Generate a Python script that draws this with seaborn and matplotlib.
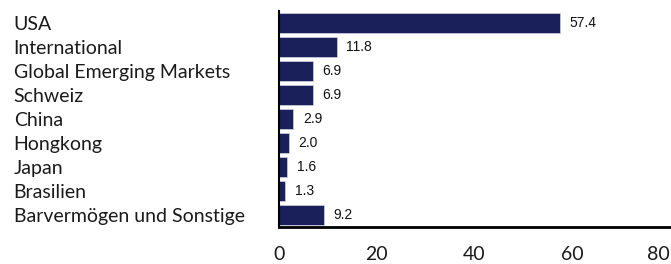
import matplotlib
matplotlib.use("Agg")
import matplotlib.pyplot as plt
import seaborn as sns
import pandas as pd

# data
categories = [
    "USA",
    "International",
    "Global Emerging Markets",
    "Schweiz",
    "China",
    "Hongkong",
    "Japan",
    "Brasilien",
    "Barvermögen und Sonstige",
]
values = [57.4, 11.8, 6.9, 6.9, 2.9, 2.0, 1.6, 1.3, 9.2]
x_ticks = [0, 20, 40, 60, 80]

df = pd.DataFrame({"category": categories, "value": values})

sns.set_style("white")
plt.rcParams["font.family"] = ["Lato", "DejaVu Sans"]

fig = plt.figure(figsize=(6.71, 2.64), dpi=100)
ax = fig.add_axes([0.4158, 0.140, 0.5827, 0.818])

sns.barplot(
    data=df, x="value", y="category", orient="h",
    color="#19205a", saturation=1, width=0.83,
    edgecolor="#d0d3e0", linewidth=0.5, ax=ax,
)

for c in ax.containers:
    ax.bar_label(c, labels=[f"{v:.1f}" for v in values], padding=7,
                 fontsize=10, family="Liberation Sans", color="#111111")

ax.set_xlim(0, 80)
ax.set_xticks(x_ticks)
ax.set_xticklabels([str(t) for t in x_ticks], fontsize=14, color="#1a1a1a")
ax.get_xticklabels()[-1].set_horizontalalignment("right")
ax.set_xlabel("")
ax.set_ylabel("")

ax.tick_params(axis="y", length=0, pad=191)
for lab in ax.get_yticklabels():
    lab.set_horizontalalignment("left")
    lab.set_fontsize(14)
    lab.set_color("#1a1a1a")
ax.tick_params(axis="x", length=0, pad=14)

for s in ["top", "right"]:
    ax.spines[s].set_visible(False)
ax.spines["left"].set_color("black")
ax.spines["left"].set_linewidth(1.5)
ax.spines["bottom"].set_color("black")
ax.spines["bottom"].set_linewidth(2)

fig.savefig("out.png", dpi=100)
